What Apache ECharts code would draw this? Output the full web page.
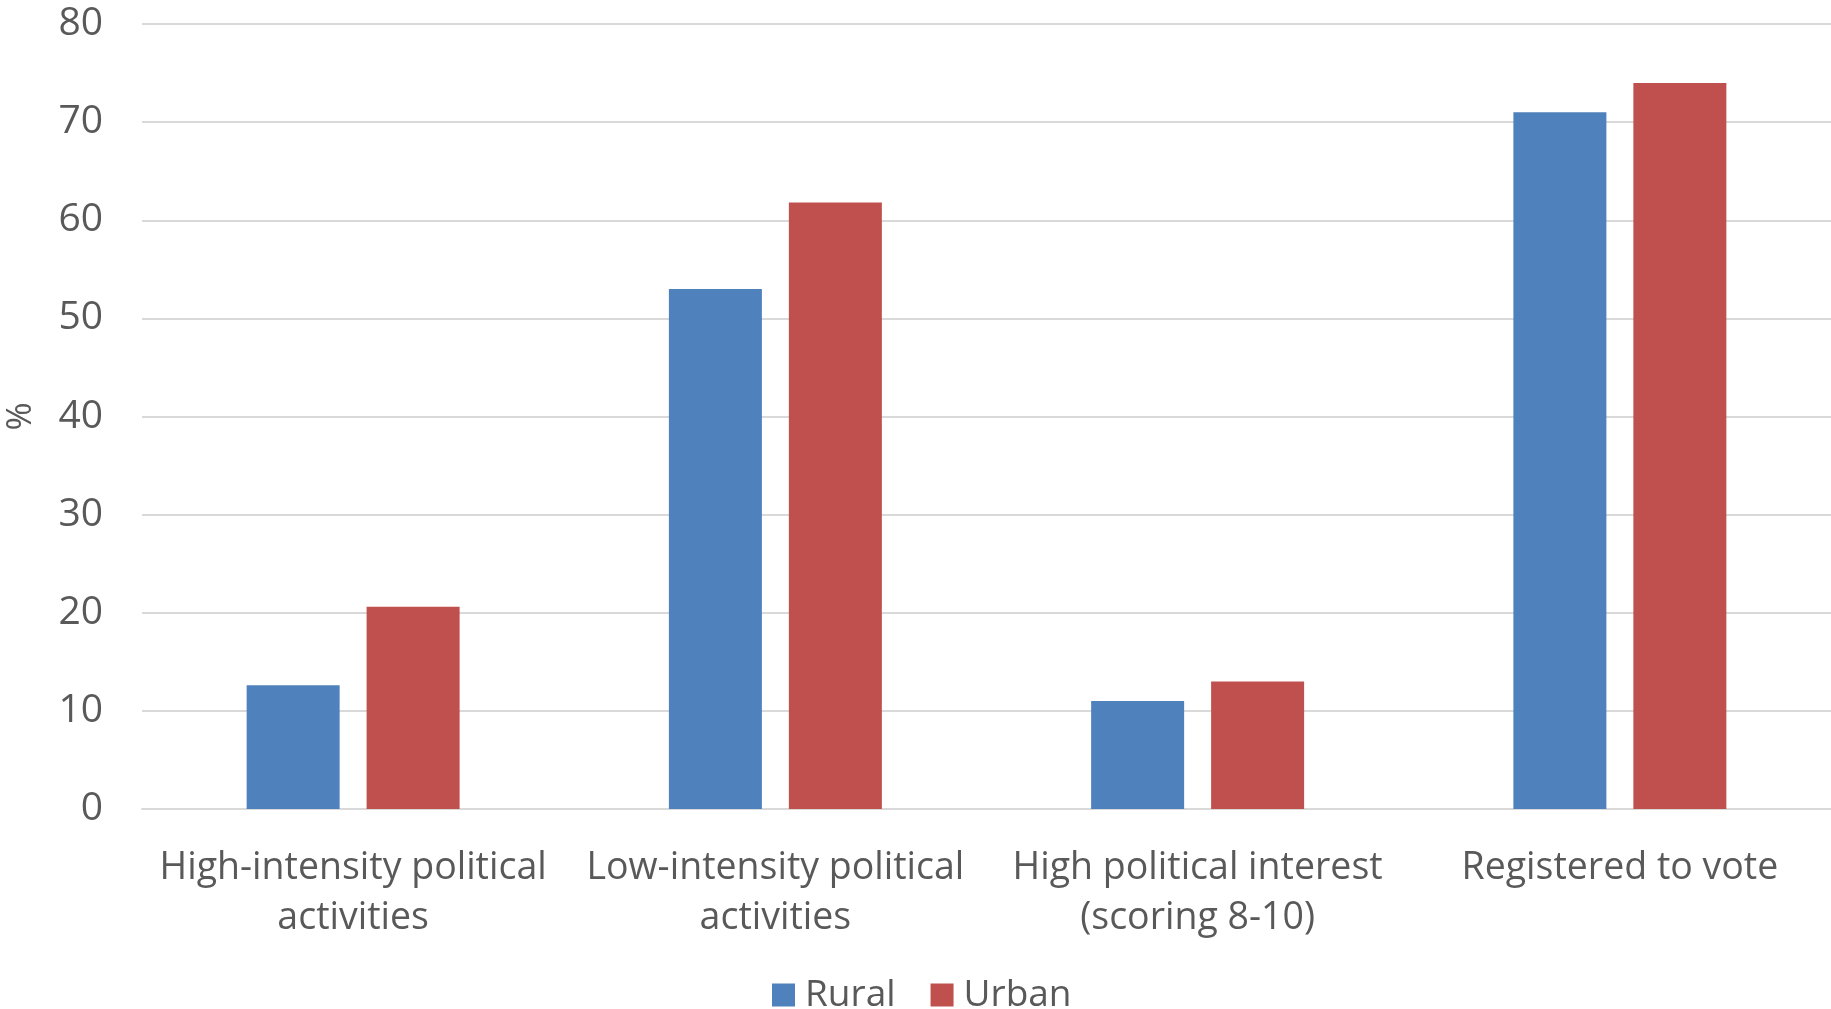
<!DOCTYPE html>
<html>
<head>
<meta charset="utf-8">
<script src="https://cdn.jsdelivr.net/npm/echarts@6/dist/echarts.min.js"></script>
<style>
html,body{margin:0;padding:0;background:#fff;}
#chart{width:1831px;height:1009px;}
</style>
</head>
<body>
<div id="chart"></div>
<script>
// Political participation by area (%)
const categories = [
  'High-intensity political\nactivities',
  'Low-intensity political\nactivities',
  'High political interest\n(scoring 8-10)',
  'Registered to vote'
];
const rural = [12.6, 53.0, 11.0, 71.0];
const urban = [20.6, 61.8, 13.0, 74.0];
const yTicks = { min: 0, max: 80, interval: 10 };

const FONT = 'Open Sans';
const TEXT = '#595959';

const chart = echarts.init(document.getElementById('chart'), null, { renderer: 'canvas' });
chart.setOption({
  animation: false,
  textStyle: { fontFamily: FONT, color: TEXT },
  grid: { left: 142, right: 0, top: 24, bottom: 200, containLabel: false, outerBoundsMode: 'none' },
  legend: {
    top: 967,
    left: 767,
    padding: 5,
    itemWidth: 23,
    itemHeight: 23,
    itemGap: 35,
    icon: 'rect',
    textStyle: { fontFamily: FONT, fontSize: 37, color: TEXT, lineHeight: 46, padding: [0, 0, 0, 5] },
    data: ['Rural', 'Urban']
  },
  xAxis: {
    type: 'category',
    data: categories,
    axisLine: { show: true, lineStyle: { color: '#D9D9D9', width: 2 } },
    axisTick: { show: false },
    axisLabel: {
      interval: 0,
      margin: 34,
      fontFamily: FONT,
      fontSize: 37.5,
      color: TEXT,
      lineHeight: 50
    }
  },
  yAxis: {
    type: 'value',
    min: yTicks.min,
    max: yTicks.max,
    interval: yTicks.interval,
    name: '%',
    nameLocation: 'middle',
    nameGap: 104,
    nameTextStyle: { fontFamily: FONT, fontSize: 34, color: TEXT },
    axisLine: { show: false },
    axisTick: { show: false },
    axisLabel: { margin: 39, fontFamily: FONT, fontSize: 39, color: TEXT },
    splitLine: { lineStyle: { color: '#D9D9D9', width: 2 } }
  },
  series: [
    {
      name: 'Rural',
      type: 'bar',
      data: rural,
      barWidth: 93,
      barGap: '29%',
      itemStyle: { color: '#4F81BD' }
    },
    {
      name: 'Urban',
      type: 'bar',
      data: urban,
      barWidth: 93,
      barGap: '29%',
      itemStyle: { color: '#C0504D' }
    }
  ]
});
</script>
</body>
</html>
